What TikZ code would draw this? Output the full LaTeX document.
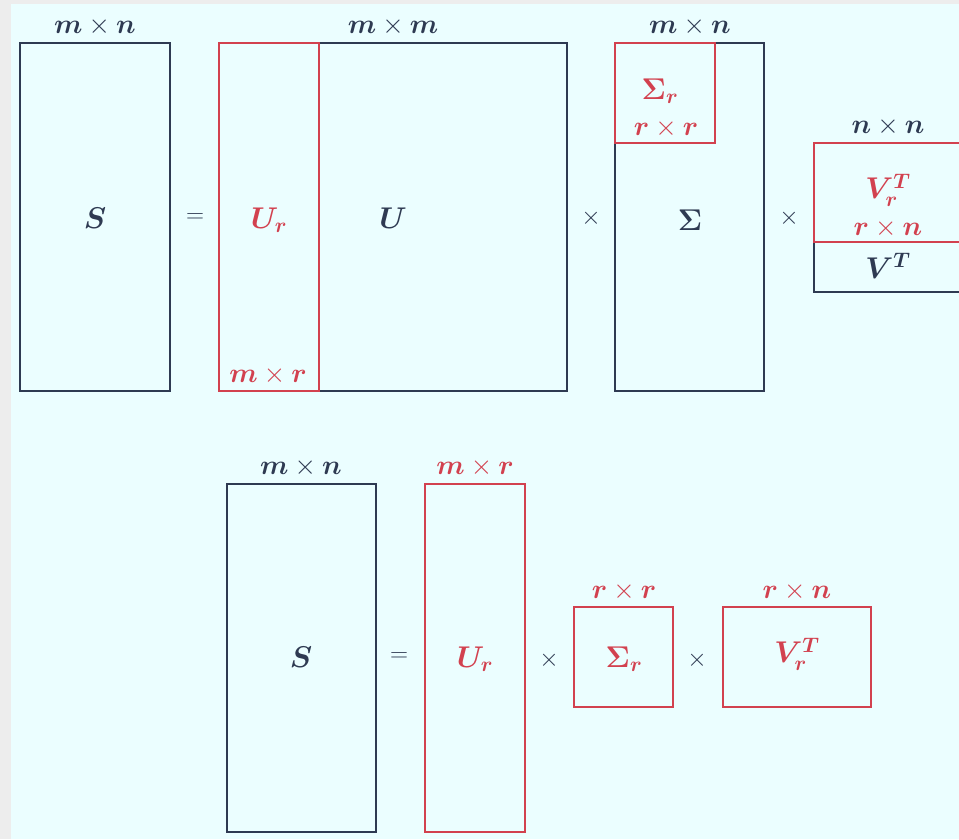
\documentclass[tikz,border=0pt]{standalone}
\usepackage{fix-cm}
\usepackage{amsmath,bm}
\definecolor{pagebg}{HTML}{EBFEFF}
\definecolor{edge}{HTML}{EDEDED}
\definecolor{ink}{HTML}{2E3A52}
\definecolor{rk}{HTML}{D2414F}
\begin{document}
\begin{tikzpicture}[x=1pt,y=-1pt,
  box/.style 2 args={draw=ink, line width=1.8pt, minimum width=#1pt, minimum height=#2pt, inner sep=0pt},
  rbox/.style 2 args={box={#1}{#2}, draw=rk},
  lab/.style={inner sep=0pt, text=ink, font=\fontsize{30}{34}\selectfont},
  rlab/.style={lab, text=rk},
  dim/.style={inner sep=0pt, text=ink, font=\fontsize{27.5}{31}\selectfont},
  rdim/.style={dim, text=rk},
  op/.style={inner sep=0pt, text=ink, font=\fontsize{25}{28}\selectfont}]
% page
\useasboundingbox (0,0) rectangle (959,839);
\fill[edge] (0,0) rectangle (959,839);
\fill[pagebg] (11,4) rectangle (959,839);
\begin{scope}
\clip (0,0) rectangle (959,839);
% ---- full decomposition ----
\node[box={150}{348}] (S1) at (95,217) {};
\node[box={348}{348}] (U) at (393,217) {};
\node[rbox={100}{348}] (Ur) at (269,217) {};
\node[box={149}{348}] (Sig) at (689.5,217) {};
\node[rbox={100}{100}] (Sigr) at (665,93) {};
\node[box={152}{149}] (VT) at (890,217.5) {};
\node[rbox={152}{99}] (VTr) at (890,192.5) {};
\node[dim] (dS1) at (95,27) {$\bm{m}\times\bm{n}$};
\node[dim] (dU) at (393,27) {$\bm{m}\times\bm{m}$};
\node[dim] (dSig) at (690,27) {$\bm{m}\times\bm{n}$};
\node[dim] (dVT) at (888,127) {$\bm{n}\times\bm{n}$};
\node[lab] (tS1) at (95,218) {$\bm{S}$};
\node[op] (eq1) at (195,218) {$=$};
\node[rlab] (tUr) at (269,220) {$\bm{U_r}$};
\node[rdim] (dUr) at (268,376) {$\bm{m}\times\bm{r}$};
\node[lab] (tU) at (393,218) {$\bm{U}$};
\node[op] (x1) at (591,218) {$\times$};
\node[rlab] (tSigr) at (660,91) {$\bm{\Sigma_r}$};
\node[rdim] (dSigr) at (666,129) {$\bm{r}\times\bm{r}$};
\node[lab] (tSig) at (690,220) {$\bm{\Sigma}$};
\node[op] (x2) at (789,218) {$\times$};
\node[rlab] (tVTr) at (888,190) {$\bm{V_r^T}$};
\node[rdim] (dVTr) at (888,229) {$\bm{r}\times\bm{n}$};
\node[lab] (tVT) at (888,266) {$\bm{V^T}$};
% ---- truncated decomposition ----
\node[box={149}{348}] (S2) at (301.5,658) {};
\node[rbox={100}{348}] (Ur2) at (475,658) {};
\node[rbox={99}{100}] (Sigr2) at (623.5,657) {};
\node[rbox={148}{100}] (VTr2) at (797,657) {};
\node[dim] (dS2) at (301,468) {$\bm{m}\times\bm{n}$};
\node[rdim] (dUr2) at (475,468) {$\bm{m}\times\bm{r}$};
\node[rdim] (dSigr2) at (624,592) {$\bm{r}\times\bm{r}$};
\node[rdim] (dVTr2) at (797,592) {$\bm{r}\times\bm{n}$};
\node[lab] (tS2) at (301,657) {$\bm{S}$};
\node[op] (eq2) at (399,657) {$=$};
\node[rlab] (tUr2) at (475,659) {$\bm{U_r}$};
\node[op] (x3) at (549,660) {$\times$};
\node[rlab] (tSigr2) at (624,659) {$\bm{\Sigma_r}$};
\node[op] (x4) at (697,660) {$\times$};
\node[rlab] (tVTr2) at (797,654) {$\bm{V_r^T}$};
\end{scope}
\end{tikzpicture}
\end{document}
